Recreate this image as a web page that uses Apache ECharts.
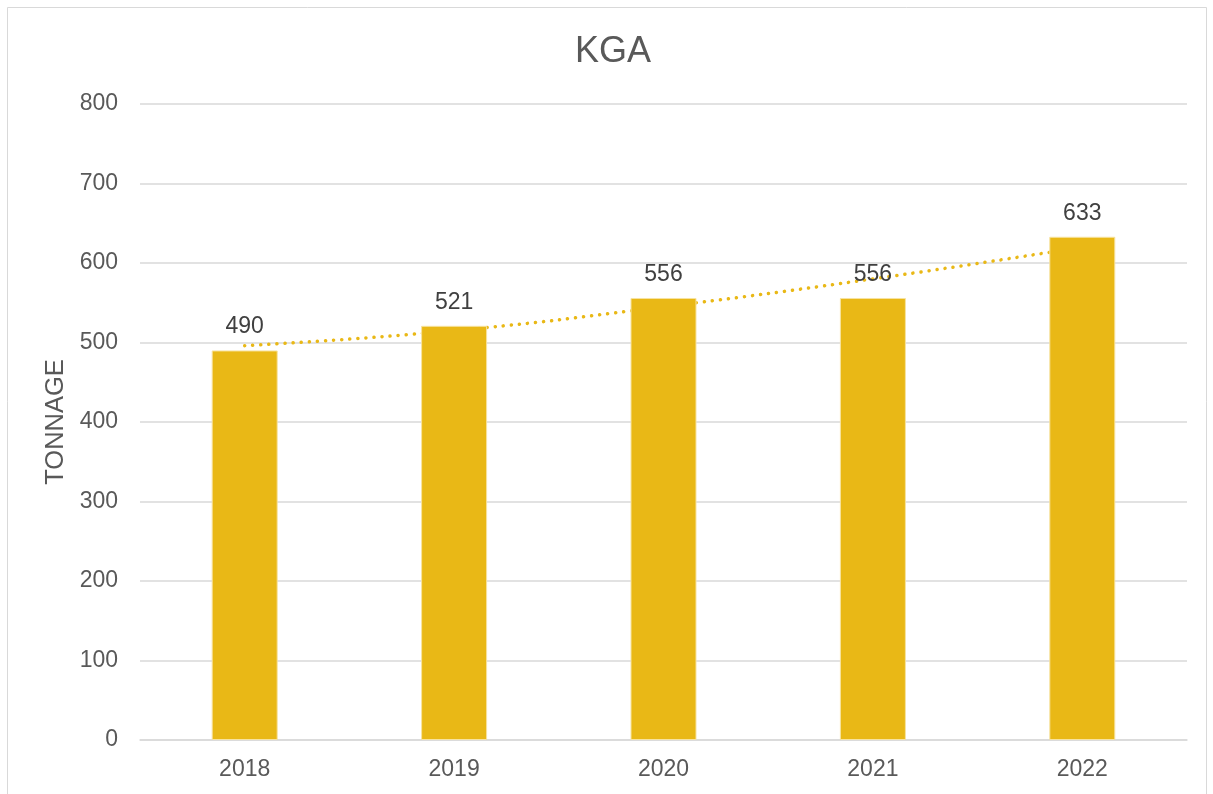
<!DOCTYPE html>
<html>
<head>
<meta charset="utf-8">
<script src="https://cdn.jsdelivr.net/npm/echarts@6/dist/echarts.min.js"></script>
<style>
html,body{margin:0;padding:0;background:#fff;}
#chart{width:1213px;height:794px;}
</style>
</head>
<body>
<div id="chart"></div>
<script>
const categories = ['2018', '2019', '2020', '2021', '2022'];
const tonnage = [490, 521, 556, 556, 633];
const trend = [496, 515, 545, 580, 620];
const yTicks = { min: 0, max: 800, interval: 100 };

const chart = echarts.init(document.getElementById('chart'));
const font = '"Liberation Sans", Arial, sans-serif';
chart.setOption({
  animation: false,
  backgroundColor: '#fff',
  graphic: [{
    type: 'rect',
    shape: { x: 7.5, y: 7.5, width: 1199, height: 800 },
    style: { fill: 'none', stroke: '#d9d9d9', lineWidth: 1 },
    silent: true
  }],
  title: {
    text: 'KGA',
    left: 570,
    top: 29,
    textStyle: { fontFamily: font, fontSize: 36, fontWeight: 'normal', color: '#595959' }
  },
  grid: { left: 140, right: 26, top: 104, bottom: 54, containLabel: false },
  xAxis: {
    type: 'category',
    data: categories,
    axisLine: { lineStyle: { color: '#d9d9d9', width: 1.5 } },
    axisTick: { show: false },
    axisLabel: { fontFamily: font, fontSize: 23, color: '#595959', margin: 18 }
  },
  yAxis: {
    type: 'value',
    min: yTicks.min, max: yTicks.max, interval: yTicks.interval,
    name: 'TONNAGE',
    nameLocation: 'middle',
    nameRotate: 90,
    nameGap: 70,
    nameTextStyle: { fontFamily: font, fontSize: 25.5, color: '#595959' },
    axisLine: { show: false },
    axisTick: { show: false },
    splitLine: { lineStyle: { color: '#d9d9d9', width: 1.5 } },
    axisLabel: { fontFamily: font, fontSize: 23, color: '#595959', margin: 22 }
  },
  series: [
    {
      type: 'line',
      data: trend,
      smooth: true,
      symbol: 'none',
      z: 1,
      lineStyle: { color: '#E9B816', width: 3.5, type: [0.1, 8], cap: 'round' },
      silent: true
    },
    {
      type: 'bar',
      data: tonnage,
      barWidth: 66,
      z: 3,
      itemStyle: { color: '#E9B816', borderColor: '#F7E3A0', borderWidth: 1 },
      label: {
        show: true,
        position: 'top',
        distance: 12,
        fontFamily: font,
        fontSize: 23,
        color: '#404040'
      }
    }
  ]
});
</script>
</body>
</html>
